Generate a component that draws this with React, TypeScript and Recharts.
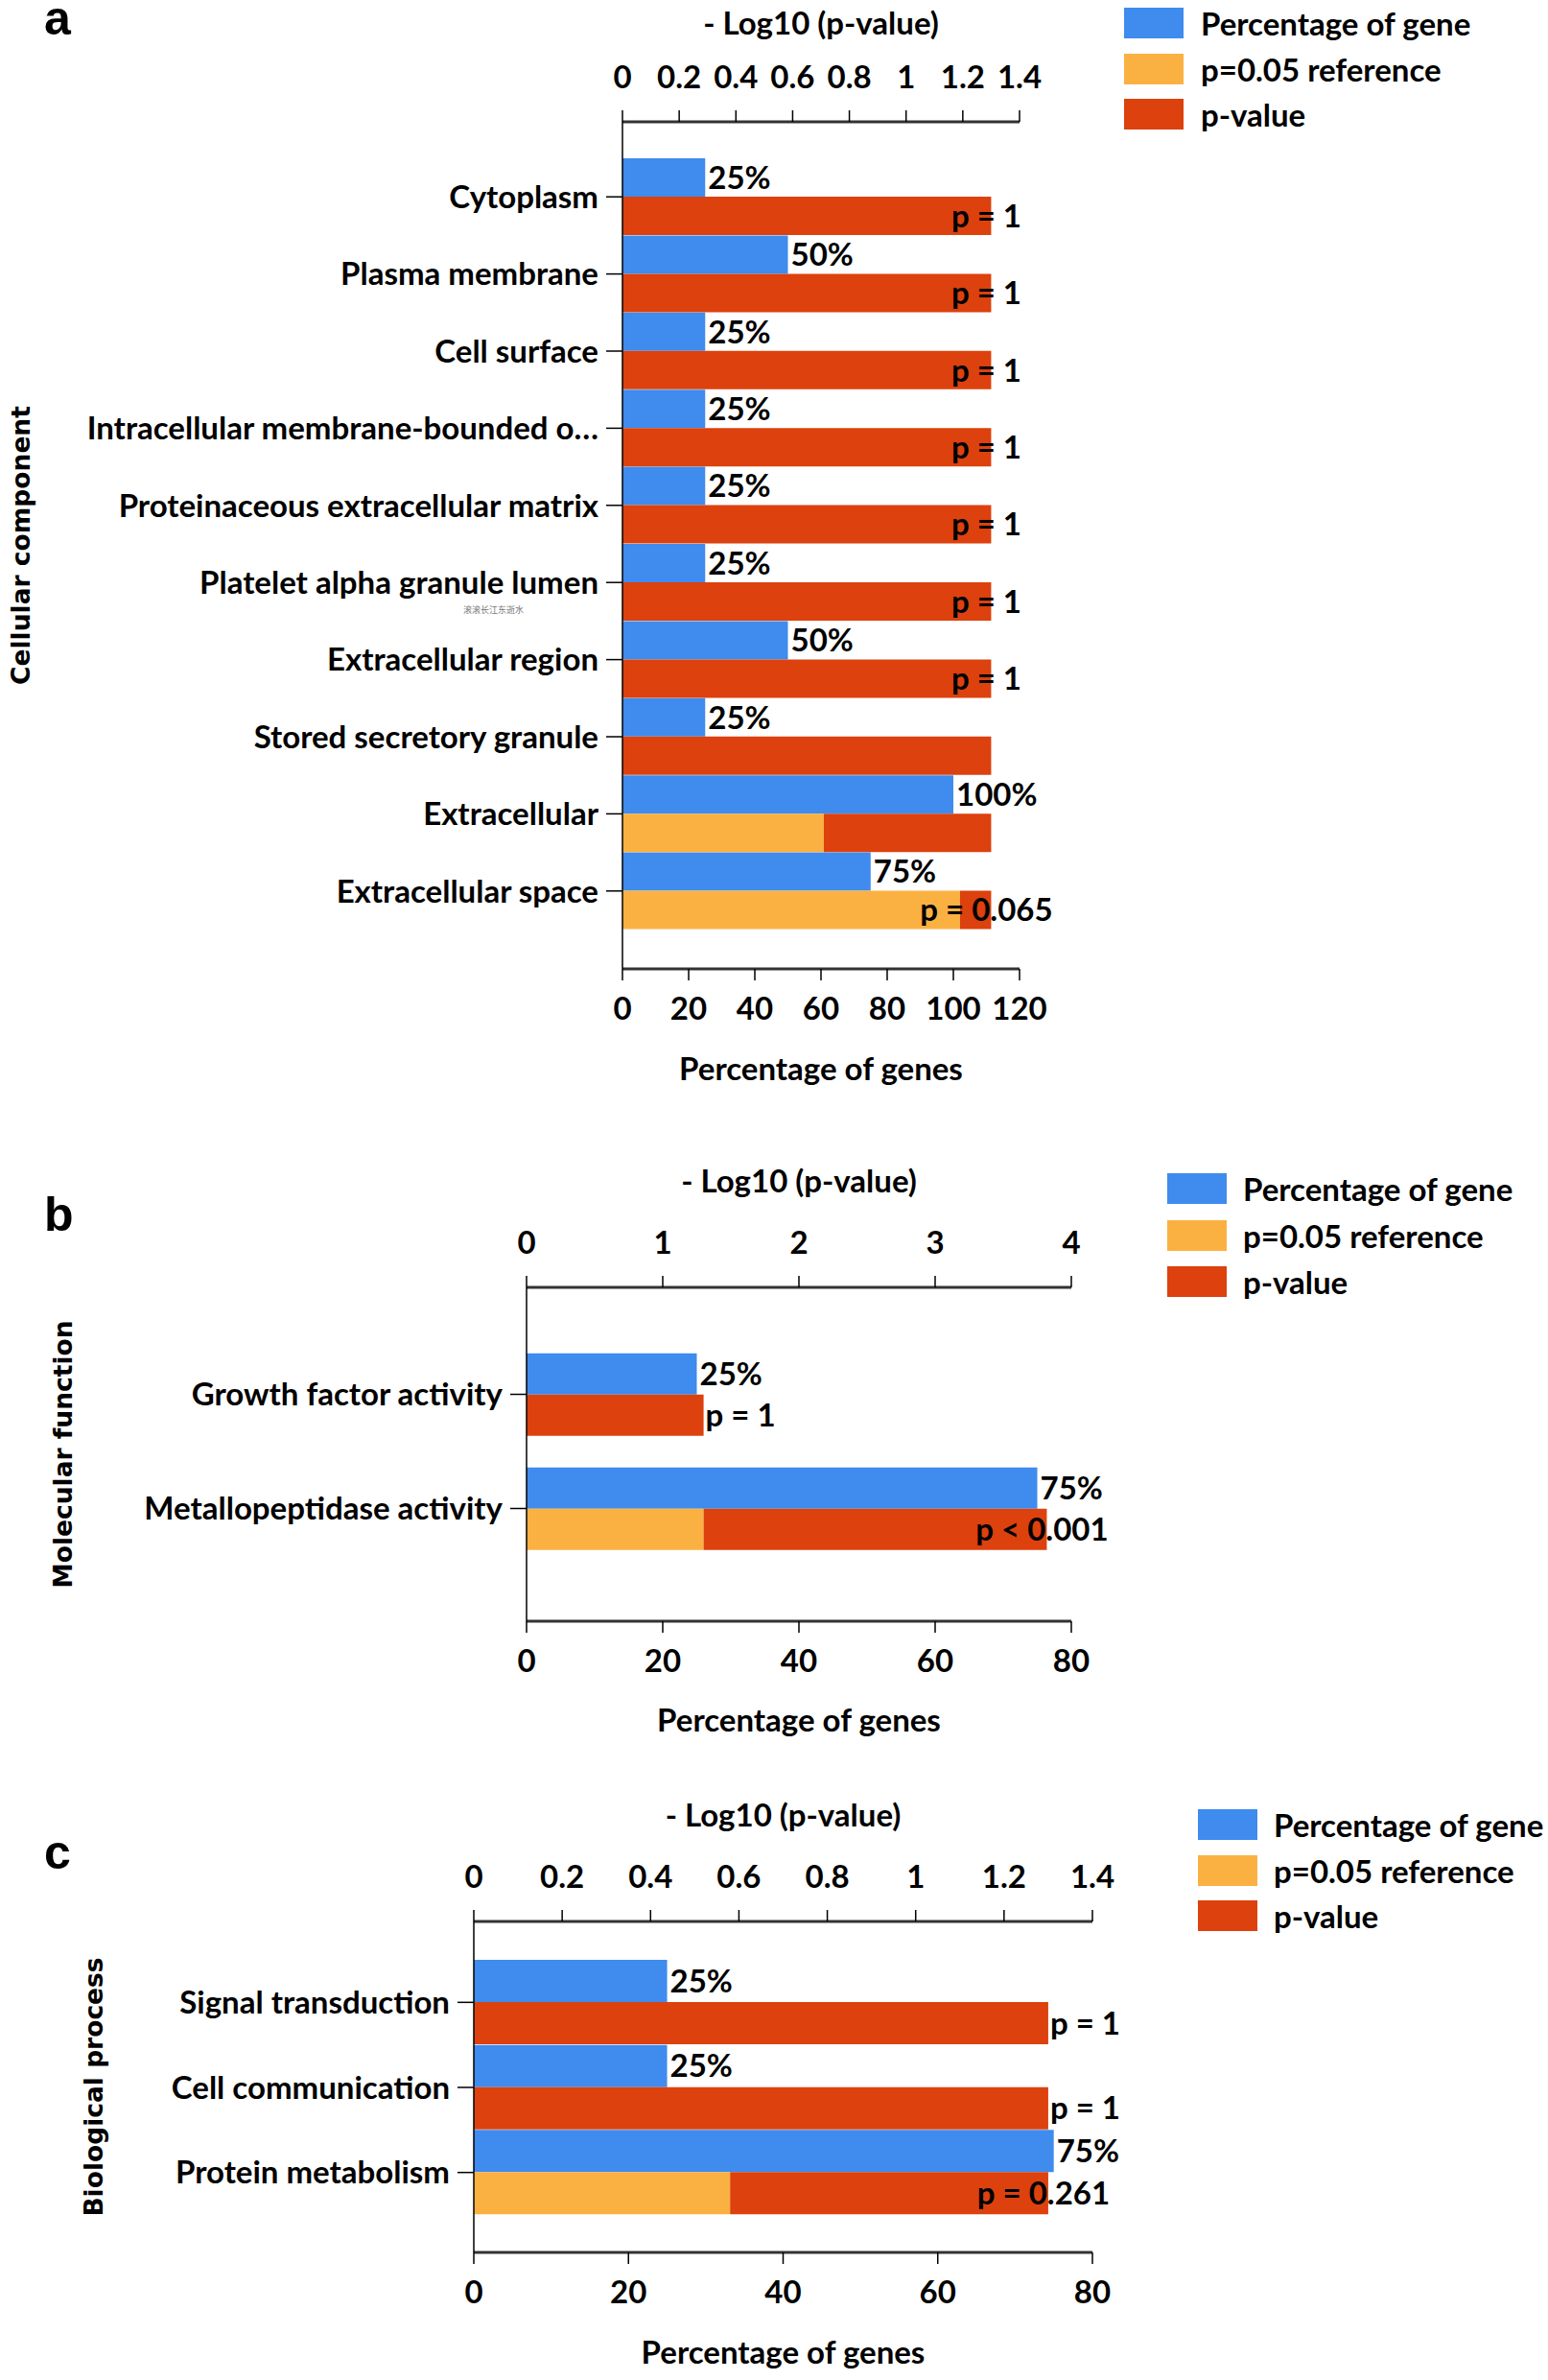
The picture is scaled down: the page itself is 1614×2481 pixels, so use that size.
import React from 'react';
import { BarChart, Bar, XAxis, YAxis, LabelList } from 'recharts';

const BLUE = '#3f8bee';
const ORANGE = '#fbb141';
const RED = '#dc410e';
const FONT = 'Lato, "Open Sans", sans-serif';
const FS = 33;

// a - Cellular component
const ccNames = [
  'Cytoplasm',
  'Plasma membrane',
  'Cell surface',
  'Intracellular membrane-bounded o…',
  'Proteinaceous extracellular matrix',
  'Platelet alpha granule lumen',
  'Extracellular region',
  'Stored secretory granule',
  'Extracellular',
  'Extracellular space',
];
const ccPercent = [25, 50, 25, 25, 25, 25, 50, 25, 100, 75];
const ccRef = [0, 0, 0, 0, 0, 0, 0, 0, 0.71, 1.19];
const ccPval = [1.3, 1.3, 1.3, 1.3, 1.3, 1.3, 1.3, 1.3, 0.59, 0.11];
const ccPLabels = ['p = 1', 'p = 1', 'p = 1', 'p = 1', 'p = 1', 'p = 1', 'p = 1', '', '', 'p = 0.065'];
const ccPctTicks = [0, 20, 40, 60, 80, 100, 120];
const ccLogTicks = [0, 0.2, 0.4, 0.6, 0.8, 1, 1.2, 1.4];

// b - Molecular function
const mfNames = ['Growth factor activity', 'Metallopeptidase activity'];
const mfPercent = [25, 75];
const mfRef = [0, 1.3];
const mfPval = [1.3, 2.52];
const mfPLabels = ['p = 1', 'p < 0.001'];
const mfPctTicks = [0, 20, 40, 60, 80];
const mfLogTicks = [0, 1, 2, 3, 4];

// c - Biological process
const bpNames = ['Signal transduction', 'Cell communication', 'Protein metabolism'];
const bpPercent = [25, 25, 75];
const bpRef = [0, 0, 0.58];
const bpPval = [1.3, 1.3, 0.72];
const bpPLabels = ['p = 1', 'p = 1', 'p = 0.261'];
const bpPctTicks = [0, 20, 40, 60, 80];
const bpLogTicks = [0, 0.2, 0.4, 0.6, 0.8, 1, 1.2, 1.4];

const legendItems = [
  { name: 'Percentage of gene', color: BLUE },
  { name: 'p=0.05 reference', color: ORANGE },
  { name: 'p-value', color: RED },
];

type Row = { name: string; percent: number; refPart: number; pPart: number; pStart: string; pMid: string };

// anchors: 'start' = label begins at bar end, 'middle' = label centred on bar end
const buildRows = (
  names: string[],
  percent: number[],
  refPart: number[],
  pPart: number[],
  labels: string[],
  anchors: string[]
): Row[] =>
  names.map((name, i) => ({
    name,
    percent: percent[i],
    refPart: refPart[i],
    pPart: pPart[i],
    pStart: anchors[i] === 'start' ? labels[i] : '',
    pMid: anchors[i] === 'start' ? '' : labels[i],
  }));

const textStyle = { fill: '#000', fontSize: FS, fontWeight: 700, fontFamily: FONT };

interface PanelProps {
  rows: Row[];
  top: number;
  width: number;
  height: number;
  marginRight: number;
  yAxisWidth: number;
  topAxisHeight: number;
  bottomAxisHeight: number;
  yPadding: { top: number; bottom: number };
  barCategoryGap: number | string;
  pctTicks: number[];
  logTicks: number[];
  yTitle: string;
  yTitleOffset: number;
  topTitleOffset: number;
  bottomTitleOffset: number;
}

const GoPanel: React.FC<PanelProps> = (p) => (
  <div style={{ position: 'absolute', left: 0, top: p.top }}>
    <BarChart
      width={p.width}
      height={p.height}
      data={p.rows}
      layout="vertical"
      margin={{ top: 0, right: p.marginRight, left: 0, bottom: 0 }}
      barGap={0}
      barCategoryGap={p.barCategoryGap}
    >
      <XAxis
        xAxisId="log"
        type="number"
        orientation="top"
        domain={[p.logTicks[0], p.logTicks[p.logTicks.length - 1]]}
        ticks={p.logTicks}
        interval={0}
        height={p.topAxisHeight}
        tickSize={12}
        tickMargin={23}
        tick={textStyle}
        tickLine={{ stroke: '#000', strokeWidth: 1.5 }}
        axisLine={{ stroke: '#333', strokeWidth: 3 }}
        label={{ value: '- Log10 (p-value)', position: 'insideTop', offset: p.topTitleOffset, ...textStyle }}
      />
      <XAxis
        xAxisId="pct"
        type="number"
        orientation="bottom"
        domain={[p.pctTicks[0], p.pctTicks[p.pctTicks.length - 1]]}
        ticks={p.pctTicks}
        interval={0}
        height={p.bottomAxisHeight}
        tickSize={12}
        tickMargin={18}
        tick={textStyle}
        tickLine={{ stroke: '#000', strokeWidth: 1.5 }}
        axisLine={{ stroke: '#333', strokeWidth: 3 }}
        label={{ value: 'Percentage of genes', position: 'insideTop', offset: p.bottomTitleOffset, ...textStyle }}
      />
      <YAxis
        type="category"
        dataKey="name"
        width={p.yAxisWidth}
        padding={p.yPadding}
        interval={0}
        tickSize={17}
        tickMargin={8}
        tick={textStyle}
        tickLine={{ stroke: '#000', strokeWidth: 1.5 }}
        axisLine={{ stroke: '#000', strokeWidth: 1.5 }}
        label={{
          value: p.yTitle,
          angle: -90,
          position: 'insideLeft',
          offset: p.yTitleOffset,
          fill: '#000',
          fontSize: 26.5,
          fontWeight: 700,
          fontFamily: '"DejaVu Sans", Verdana, sans-serif',
          style: { textAnchor: 'middle' },
        }}
      />
      <Bar dataKey="percent" xAxisId="pct" stackId="a_pct" fill={BLUE} isAnimationActive={false}>
        <LabelList dataKey="percent" position="right" offset={3} formatter={(v: any) => `${v}%`} {...textStyle} />
      </Bar>
      <Bar dataKey="refPart" xAxisId="log" stackId="b_p" fill={ORANGE} isAnimationActive={false} />
      <Bar dataKey="pPart" xAxisId="log" stackId="b_p" fill={RED} isAnimationActive={false}>
        <LabelList dataKey="pStart" position="right" offset={2} {...textStyle} />
        <LabelList dataKey="pMid" position="right" offset={-5} {...textStyle} style={{ textAnchor: 'middle' }} />
      </Bar>
    </BarChart>
  </div>
);

const Legend: React.FC<{ squareX: number; textX: number; top: number; step: number }> = ({ squareX, textX, top, step }) => (
  <>
    {legendItems.map((item, i) => (
      <React.Fragment key={item.name}>
        <div
          style={{ position: 'absolute', left: squareX, top: top + i * step, width: 62, height: 32, background: item.color }}
        />
        <div
          style={{
            position: 'absolute',
            left: textX,
            top: top + i * step - 4,
            height: 40,
            lineHeight: '40px',
            fontSize: FS,
            fontWeight: 700,
            fontFamily: FONT,
            color: '#000',
            whiteSpace: 'nowrap',
          }}
        >
          {item.name}
        </div>
      </React.Fragment>
    ))}
  </>
);

// baseline = y of the letter's baseline
const Letter: React.FC<{ text: string; baseline: number }> = ({ text, baseline }) => (
  <div
    style={{
      position: 'absolute',
      left: 46,
      top: baseline - 27.3,
      height: 20,
      lineHeight: '20px',
      fontSize: 50,
      fontWeight: 700,
      fontFamily: '"Liberation Sans", Arial, sans-serif',
      color: '#000',
    }}
  >
    {text}
  </div>
);

export default function App() {
  return (
    <div style={{ position: 'absolute', left: 0, top: 0, width: 1614, height: 2481, background: '#fff', overflow: 'hidden' }}>
      <GoPanel
        rows={buildRows(ccNames, ccPercent, ccRef, ccPval, ccPLabels, ccNames.map(() => 'middle'))}
        top={0}
        width={1160}
        height={1150}
        marginRight={97}
        yAxisWidth={649}
        topAxisHeight={127}
        bottomAxisHeight={140}
        yPadding={{ top: 38, bottom: 41 }}
        barCategoryGap={0}
        pctTicks={ccPctTicks}
        logTicks={ccLogTicks}
        yTitle="Cellular component"
        yTitleOffset={22}
        topTitleOffset={13}
        bottomTitleOffset={93}
      />
      <GoPanel
        rows={buildRows(mfNames, mfPercent, mfRef, mfPval, mfPLabels, ['start', 'middle'])}
        top={1190}
        width={1200}
        height={640}
        marginRight={83}
        yAxisWidth={549}
        topAxisHeight={152}
        bottomAxisHeight={140}
        yPadding={{ top: 52, bottom: 58 }}
        barCategoryGap="14%"
        pctTicks={mfPctTicks}
        logTicks={mfLogTicks}
        yTitle="Molecular function"
        yTitleOffset={66}
        topTitleOffset={30}
        bottomTitleOffset={92}
      />
      <GoPanel
        rows={buildRows(bpNames, bpPercent, bpRef, bpPval, bpPLabels, ['start', 'start', 'middle'])}
        top={1850}
        width={1200}
        height={631}
        marginRight={61}
        yAxisWidth={494}
        topAxisHeight={153}
        bottomAxisHeight={133}
        yPadding={{ top: 40, bottom: 39 }}
        barCategoryGap={0}
        pctTicks={bpPctTicks}
        logTicks={bpLogTicks}
        yTitle="Biological process"
        yTitleOffset={98}
        topTitleOffset={31}
        bottomTitleOffset={93}
      />
      <Letter text="a" baseline={36} />
      <Letter text="b" baseline={1283} />
      <Letter text="c" baseline={1948} />
      <Legend squareX={1172} textX={1252} top={8} step={47.5} />
      <Legend squareX={1217} textX={1296} top={1223} step={48.5} />
      <Legend squareX={1249} textX={1328} top={1886} step={47.5} />
      <div
        style={{
          position: 'absolute',
          left: 483,
          top: 630,
          fontSize: 9,
          lineHeight: '12px',
          color: '#777',
          fontFamily: '"Noto Sans CJK SC", sans-serif',
          whiteSpace: 'nowrap',
        }}
      >
        滚滚长江东逝水
      </div>
    </div>
  );
}
